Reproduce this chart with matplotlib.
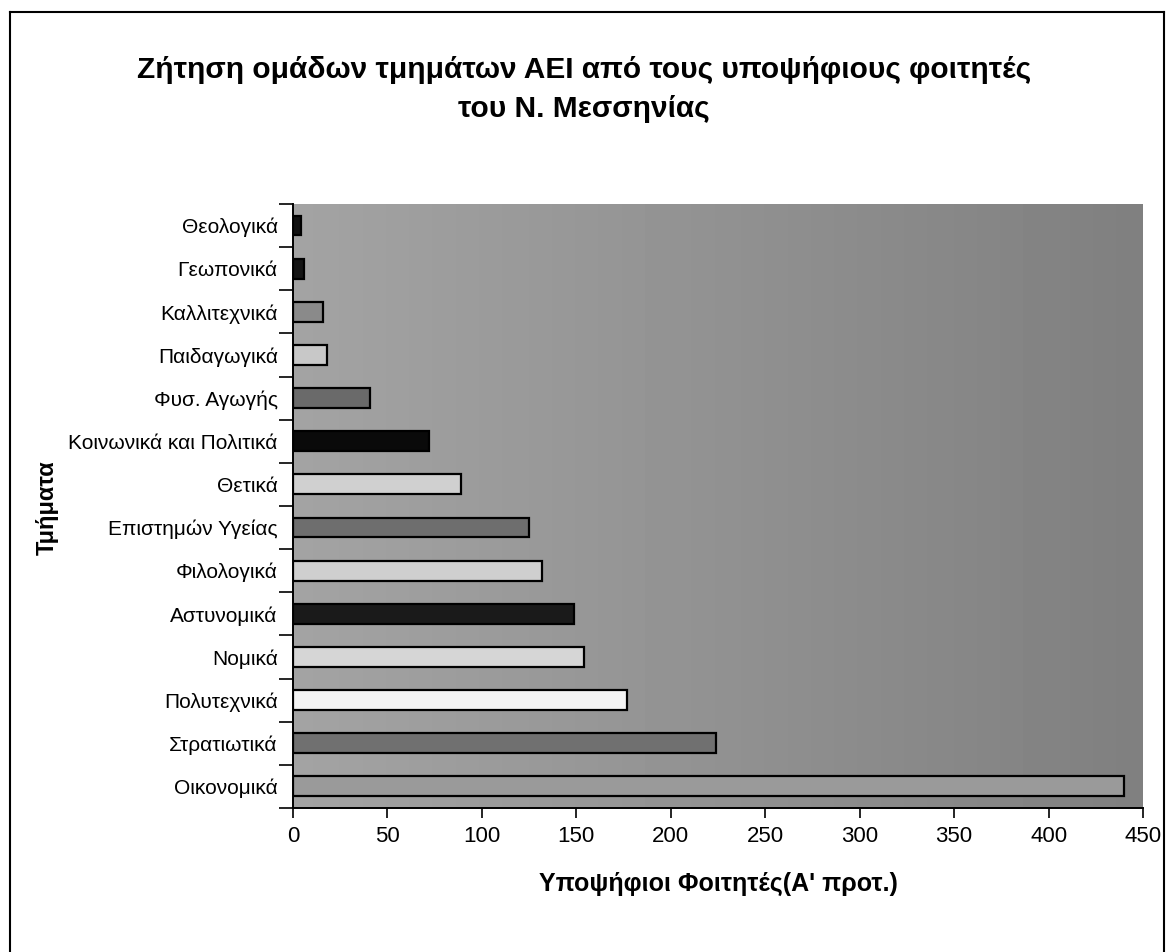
import matplotlib.pyplot as plt
import numpy as np
from matplotlib.lines import Line2D

plt.rcParams['font.family'] = ['Liberation Sans', 'DejaVu Sans']

# categories, top to bottom as in the chart
departments = ['Θεολογικά', 'Γεωπονικά', 'Καλλιτεχνικά', 'Παιδαγωγικά', 'Φυσ. Αγωγής',
               'Κοινωνικά και Πολιτικά', 'Θετικά', 'Επιστημών Υγείας', 'Φιλολογικά',
               'Αστυνομικά', 'Νομικά', 'Πολυτεχνικά', 'Στρατιωτικά', 'Οικονομικά']
candidates = [4, 6, 16, 18, 41, 72, 89, 125, 132, 149, 154, 177, 224, 440]
bar_colors = ['#111111', '#151515', '#8a8a8a', '#c8c8c8', '#6a6a6a', '#0a0a0a', '#d0d0d0',
              '#6e6e6e', '#cfcfcf', '#1a1a1a', '#d6d6d6', '#f4f4f4', '#707070', '#9a9a9a']
x_ticks = [0, 50, 100, 150, 200, 250, 300, 350, 400, 450]

fig = plt.figure(figsize=(11.68, 9.52), dpi=100)
ax = fig.add_axes([0.2509, 0.1513, 0.7277, 0.6345])

n = len(departments)
y = np.arange(n)

# background wall: gray shading, a bit lighter on the left
grad = np.linspace(0.64, 0.50, 256).reshape(1, -1)
ax.imshow(grad, cmap='gray', vmin=0, vmax=1, aspect='auto',
          extent=[0, 450, n - 0.5, -0.5], zorder=0)

ax.barh(y, candidates, height=0.46, color=bar_colors, edgecolor='black',
        linewidth=1.6, zorder=3)

ax.set_xlim(0, 450)
ax.set_ylim(n - 0.5, -0.5)
ax.set_xticks(x_ticks)
ax.set_xticklabels([str(t) for t in x_ticks], fontsize=16)
ax.set_yticks(y)
ax.set_yticklabels(departments, fontsize=15)
ax.set_yticks(np.arange(-0.5, n), minor=True)
ax.tick_params(axis='y', which='major', length=0, pad=11)
ax.tick_params(axis='y', which='minor', length=10, width=1.2, direction='out')
ax.tick_params(axis='x', length=7, width=1.2, direction='out', pad=6)

for s in ['top', 'right']:
    ax.spines[s].set_visible(False)
ax.spines['left'].set_linewidth(1.4)
ax.spines['bottom'].set_linewidth(1.4)

ax.set_xlabel("Υποψήφιοι Φοιτητές(Α' προτ.)", fontsize=18, fontweight='bold', labelpad=18)
fig.text(47 / 1168, 1 - 508 / 952, 'Τμήματα', rotation=90, ha='center', va='center',
         fontsize=17, fontweight='bold')

fig.text(0.5, 0.926, 'Ζήτηση ομάδων τμημάτων ΑΕΙ από τους υποψήφιους φοιτητές',
         ha='center', va='center', fontsize=21.5, fontweight='bold')
fig.text(0.5, 0.886, 'του Ν. Μεσσηνίας', ha='center', va='center',
         fontsize=21.5, fontweight='bold')

# outer frame of the chart
x0, x1, ytop = 10 / 1168, 1164 / 1168, 1 - 12 / 952
for xs, ys in [([x0, x0], [0, ytop]), ([x0, x1], [ytop, ytop]), ([x1, x1], [ytop, 0])]:
    fig.add_artist(Line2D(xs, ys, color='black', linewidth=1.5, transform=fig.transFigure))

fig.savefig('out.png', dpi=100)
